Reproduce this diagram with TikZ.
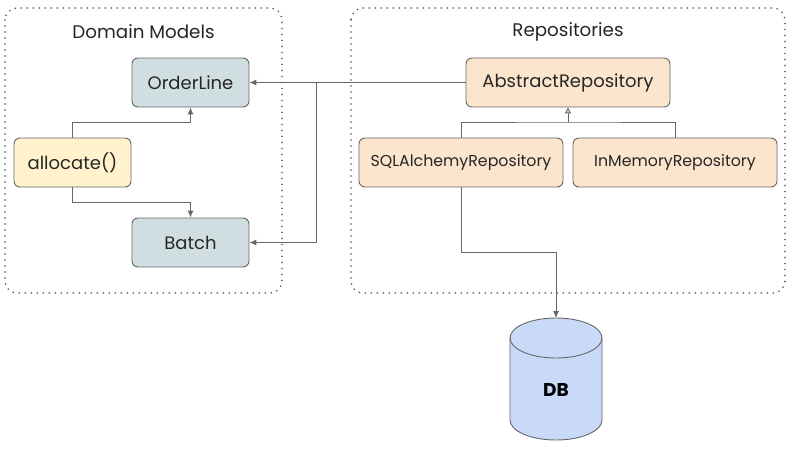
\documentclass[tikz,border=0pt]{standalone}
\usepackage{fontspec}
\setmainfont{Poppins}
\usetikzlibrary{arrows.meta}
\definecolor{edge}{HTML}{666666}
\definecolor{dotc}{HTML}{555555}
\definecolor{blueg}{HTML}{D0DEE2}
\definecolor{yel}{HTML}{FFF2CC}
\definecolor{peach}{HTML}{FCE5CD}
\definecolor{dbblue}{HTML}{C9DAF8}
\tikzset{
  box/.style={draw=edge, line width=0.9pt, rounded corners=6pt, inner sep=0pt, font=\fontsize{18}{20}\selectfont, text=black!85},
  smallbox/.style={box, font=\fontsize{15.8}{18}\selectfont},
  container/.style={draw=dotc, line width=1.8pt, dash pattern=on 0pt off 6pt, line cap=round, rounded corners=12pt},
  arr/.style={draw=edge, line width=1pt, -{Latex[length=7pt,width=6pt]}},
  inh/.style={draw=edge, line width=1pt, -{Triangle[open,length=6pt,width=6pt]}},
  title/.style={font=\fontsize{18.3}{21}\selectfont, text=black!85}
}
\begin{document}
\begin{tikzpicture}[x=1pt,y=-1pt]
\useasboundingbox (0,0) rectangle (792,448);
% containers
\draw[container] (5,8) rectangle (282,293);
\draw[container] (351,8) rectangle (785,293);
\node[title] (tdm) at (143.5,32) {Domain Models};
\node[title] (trep) at (568,32) {Repositories};
% boxes
\node[box, fill=blueg, minimum width=117pt, minimum height=49pt] (ol) at (190.5,82.5) {OrderLine};
\node[box, fill=yel, minimum width=117pt, minimum height=49pt] (alloc) at (72.5,162.5) {allocate()};
\node[box, fill=blueg, minimum width=117pt, minimum height=49pt] (batch) at (190.5,242.5) {Batch};
\node[box, fill=peach, minimum width=204pt, minimum height=49pt] (abs) at (568,82.5) {AbstractRepository};
\node[smallbox, fill=peach, minimum width=204pt, minimum height=49pt] (sql) at (461,162.5) {SQLAlchemyRepository};
\node[smallbox, fill=peach, minimum width=204pt, minimum height=49pt] (inm) at (675,162.5) {InMemoryRepository};
% DB cylinder
\coordinate (dbtop) at (556,318);
\filldraw[draw=edge, line width=0.9pt, fill=dbblue]
  (510,338) -- (510,420) arc[start angle=180, end angle=0, x radius=46, y radius=20] -- (602,338)
  arc[start angle=0, end angle=-180, x radius=46, y radius=20] -- cycle;
\draw[edge, line width=0.9pt] (510,338) arc[start angle=180, end angle=0, x radius=46, y radius=20];
\node[font=\fontsize{18.5}{20}\selectfont\bfseries] (db) at (556,390) {DB};
% connectors
\coordinate (split) at (316,82.5);
\draw[arr] (abs.west) -- (ol.east);
\draw[arr] (split) |- (batch.east);
\draw[arr] (alloc.north) -- ++(0,-15.5) -| (ol.south);
\draw[arr] (alloc.south) -- ++(0,15) -| (batch.north);
\coordinate (bar) at (568,122);
\draw[edge, line width=1pt] (sql.north) |- (bar) -| (inm.north);
\draw[inh] (bar) -- (abs.south);
\draw[arr] (sql.south) -- ++(0,65) -| (dbtop);
\end{tikzpicture}
\end{document}
